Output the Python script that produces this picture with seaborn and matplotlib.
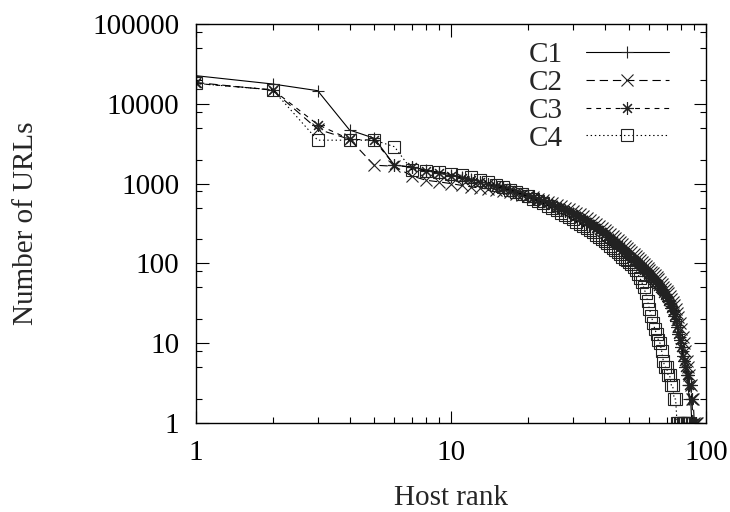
import numpy as np
import pandas as pd
import matplotlib
matplotlib.use("Agg")
import matplotlib.pyplot as plt
import seaborn as sns
from matplotlib.ticker import LogLocator, FixedLocator, FuncFormatter, NullFormatter

# URL counts per host, ordered by host rank (rank = position in list, starting at 1)
c1_urls = [22500, 17700, 14600, 4700, 3700, 1700, 1620, 1480, 1380, 1290,
           1210, 1130, 1060, 1000, 950, 900, 850, 805, 760, 720,
           680, 645, 610, 580, 550, 522, 495, 470, 447, 425,
           404, 384, 364, 344, 324, 305, 287, 270, 254, 239,
           225, 212, 200, 188, 177, 167, 157, 148, 140, 132,
           124, 117, 111, 105, 100, 95, 90, 85, 80, 76,
           72, 68, 64, 60, 56, 52, 48, 44, 41, 38,
           35, 32, 29, 26, 23, 20, 17, 14, 12, 10,
           8, 6, 5, 4, 3, 2, 2, 1, 1, 1]

c2_urls = [18500, 14800, 4800, 3600, 1700, 1650, 1250, 1100, 1050, 1000,
           950, 910, 880, 860, 840, 810, 780, 750, 720, 695,
           670, 645, 620, 595, 570, 545, 520, 496, 474, 452,
           431, 411, 391, 371, 352, 333, 315, 298, 281, 265,
           250, 236, 222, 209, 197, 185, 174, 164, 155, 146,
           138, 130, 123, 116, 110, 104, 98, 93, 88, 83,
           79, 75, 71, 67, 63, 59, 55, 51, 48, 45,
           42, 39, 36, 33, 30, 27, 24, 21, 18, 15,
           12, 10, 8, 6, 5, 4, 3, 2, 2, 1, 1, 1]

c3_urls = [18000, 15000, 5500, 3600, 3500, 1700, 1600, 1450, 1350, 1250,
           1180, 1100, 1040, 980, 925, 870, 820, 775, 735, 700,
           665, 630, 598, 566, 536, 508, 482, 458, 436, 414,
           393, 373, 353, 333, 314, 296, 279, 262, 246, 231,
           217, 204, 192, 180, 169, 159, 149, 140, 132, 124,
           117, 110, 104, 98, 92, 87, 82, 78, 74, 70,
           66, 62, 58, 55, 52, 49, 46, 43, 40, 37,
           34, 31, 28, 25, 22, 19, 16, 13, 11, 9,
           7, 6, 5, 4, 4, 3, 3, 2, 1, 1, 1]

c4_urls = [18000, 15000, 3500, 3500, 3500, 2900, 1500, 1450, 1400, 1330,
           1270, 1200, 1120, 1040, 970, 900, 840, 785, 735, 690,
           645, 605, 565, 528, 494, 462, 432, 405, 380, 357,
           335, 314, 295, 277, 260, 244, 229, 215, 202, 190,
           178, 167, 157, 147, 138, 130, 122, 115, 109, 103,
           97, 90, 82, 74, 66, 58, 50, 42, 34, 27,
           22, 18, 15, 13, 11, 10, 8, 6, 5, 5,
           4, 4, 3, 3, 2, 2, 1, 1, 1, 1,
           1, 1, 1, 1, 1, 1]

series_names = ["C1", "C2", "C3", "C4"]
series_urls = [c1_urls, c2_urls, c3_urls, c4_urls]

frames = []
for name, urls in zip(series_names, series_urls):
    frames.append(pd.DataFrame({"rank": np.arange(1, len(urls) + 1), "urls": urls, "crawl": name}))
df = pd.concat(frames, ignore_index=True)

# ---- style ----
sns.set_style("ticks")
plt.rcParams["font.family"] = ["Liberation Serif", "DejaVu Serif"]
plt.rcParams["lines.scale_dashes"] = False

fig = plt.figure(figsize=(7.3, 5.12), dpi=100)
ax = fig.add_axes([196 / 730, 89 / 512, 510 / 730, 399 / 512])

looks = {
    "C1": dict(marker="+", linestyle="-"),
    "C2": dict(marker="x", linestyle=(0, (6, 3.5))),
    "C3": dict(marker=(8, 2, 0), linestyle=(0, (3.5, 3.5))),
    "C4": dict(marker="s", linestyle=(0, (1, 2)), markerfacecolor="none"),
}

for name in series_names:
    sns.lineplot(data=df[df["crawl"] == name], x="rank", y="urls", ax=ax,
                 color="black", linewidth=0.8, markersize=9, markeredgewidth=0.8,
                 markeredgecolor="#222222", estimator=None, label=name,
                 **looks[name])

ax.set_xscale("log")
ax.set_yscale("log")
ax.set_xlim(1, 100)
ax.set_ylim(1, 100000)

ax.xaxis.set_major_locator(FixedLocator([1, 10, 100]))
ax.xaxis.set_minor_locator(LogLocator(base=10, subs=np.arange(2, 10)))
ax.yaxis.set_major_locator(FixedLocator([1, 10, 100, 1000, 10000, 100000]))
ax.yaxis.set_minor_locator(LogLocator(base=10, subs=[2, 5, 8]))
fmt = FuncFormatter(lambda v, p: "%d" % v)
ax.xaxis.set_major_formatter(fmt)
ax.yaxis.set_major_formatter(fmt)
ax.xaxis.set_minor_formatter(NullFormatter())
ax.yaxis.set_minor_formatter(NullFormatter())

ax.tick_params(which="both", direction="in", top=True, right=True, width=0.8,
               colors="black", labelsize=21, pad=12)
ax.tick_params(which="major", length=9)
ax.tick_params(which="minor", length=4.5)
for sp in ax.spines.values():
    sp.set_linewidth(1.0)
    sp.set_color("black")

ax.set_xlabel("Host rank", fontsize=21, labelpad=14)
ax.set_ylabel("Number of URLs", fontsize=21, labelpad=38)

ax.legend(loc="upper right", bbox_to_anchor=(0.95, 0.985), frameon=False,
          markerfirst=False, handlelength=2.85, handletextpad=0.8,
          labelspacing=0.05, numpoints=1, fontsize=21, borderaxespad=0)

fig.savefig("out.png", dpi=100, facecolor="white")
